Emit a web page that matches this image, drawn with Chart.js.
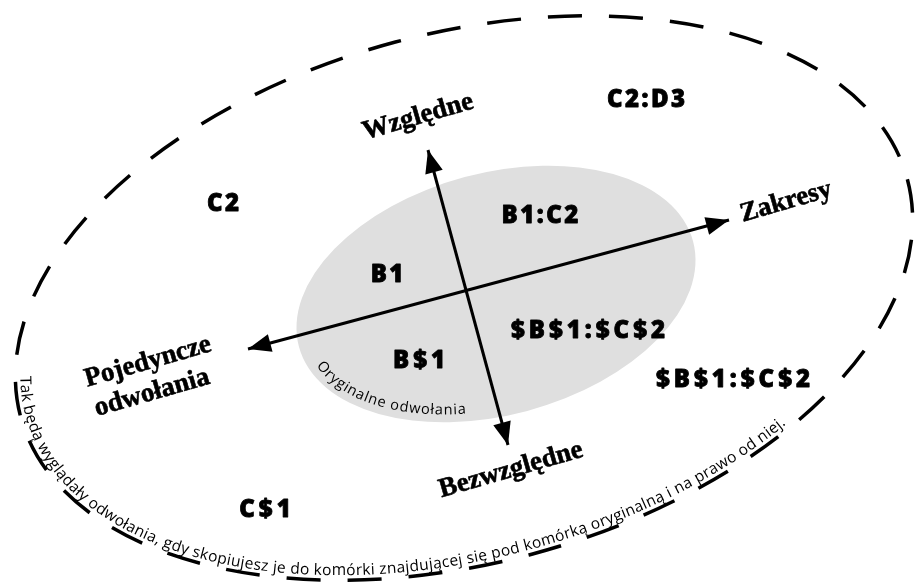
<!DOCTYPE html>
<html>
<head>
<meta charset="utf-8">
<script src="https://cdn.jsdelivr.net/npm/chart.js@4/dist/chart.umd.min.js"></script>
<style>
  html, body { margin:0; padding:0; background:#fff; }
  #diagram { display:block; }
</style>
</head>
<body>
<canvas id="diagram" width="916" height="586"></canvas>
<script>
// cell references placed around the diagram (plot units = 916 x 586 frame)
var cellRefs = ['C2', 'C2:D3', 'B1', 'B1:C2', '$B$1:$C$2', 'B$1', 'C$1', '$B$1:$C$2'];
var cellX = [223, 646, 387, 540, 588, 419, 265, 733];
var cellY = [204, 100, 275, 216, 331, 361, 510, 380];

// names of the arrow directions
var axisNames = ['Względne', 'Zakresy', 'Bezwzględne', 'Pojedyncze', 'odwołania'];
var axisNameX = [418, 786, 511, 148, 152];
var axisNameY = [117, 202, 470, 362, 393];

// the two double arrows
var vertArrowX = [508, 428];
var vertArrowY = [445, 150];
var horizArrowX = [248, 729];
var horizArrowY = [349, 220];

// ellipses: centre x, centre y, radius x, radius y, tilt (deg)
var outerRing = [464, 298, 459, 265, -15];
var innerRing = [496, 294, 204, 121, -15];

// texts running along the ellipses
var outerCaption = 'Tak będą wyglądały odwołania, gdy skopiujesz je do komórki znajdującej się pod komórką oryginalną i na prawo od niej.';
var outerCaptionFrom = [26, 376];
var outerCaptionTo = [789, 428];
var innerCaption = 'Oryginalne odwołania';
var innerCaptionFrom = [316, 366];
var innerCaptionTo = [466, 413];

function ringPoint(r, t, inset){
    var a = (r[2] - inset) * Math.cos(t), b = (r[3] - inset) * Math.sin(t);
    var rot = r[4] * Math.PI / 180;
    return [r[0] + a*Math.cos(rot) - b*Math.sin(rot), r[1] + a*Math.sin(rot) + b*Math.cos(rot)];
}

function drawRing(chart, r, fill, dash){
    var xs = chart.scales.x, ys = chart.scales.y, ctx = chart.ctx;
    var cx = xs.getPixelForValue(r[0]), cy = ys.getPixelForValue(r[1]);
    var rx = Math.abs(xs.getPixelForValue(r[0] + r[2]) - cx);
    var ry = Math.abs(ys.getPixelForValue(r[1] + r[3]) - cy);
    ctx.save();
    ctx.beginPath();
    ctx.ellipse(cx, cy, rx, ry, r[4] * Math.PI / 180, 0, Math.PI * 2);
    if(fill){ ctx.fillStyle = fill; ctx.fill(); }
    if(dash){
        ctx.setLineDash(dash);
        ctx.lineWidth = 3.5;
        ctx.strokeStyle = '#000';
        ctx.stroke();
    }
    ctx.restore();
}

function textOnRing(chart, r, inset, str, from, to, font){
    var xs = chart.scales.x, ys = chart.scales.y, ctx = chart.ctx;
    // find start parameter nearest to 'from'
    var best = 0, bd = 1e9, i;
    for(i = 0; i < 3600; i++){
        var t = i / 3600 * Math.PI * 2;
        var p = ringPoint(r, t, inset);
        var d = Math.hypot(p[0] - from[0], p[1] - from[1]);
        if(d < bd){ bd = d; best = t; }
    }
    // walk with decreasing t (left -> bottom -> right)
    var pts = [], lens = [0], n = 3000;
    for(i = 0; i <= n; i++){
        var q = ringPoint(r, best - i / n * Math.PI * 2, inset);
        pts.push([xs.getPixelForValue(q[0]), ys.getPixelForValue(q[1])]);
        if(i > 0) lens.push(lens[i-1] + Math.hypot(pts[i][0] - pts[i-1][0], pts[i][1] - pts[i-1][1]));
    }
    var endIdx = 0; bd = 1e9;
    var tx = xs.getPixelForValue(to[0]), ty = ys.getPixelForValue(to[1]);
    for(i = 0; i <= n / 2; i++){
        var dd = Math.hypot(pts[i][0] - tx, pts[i][1] - ty);
        if(dd < bd){ bd = dd; endIdx = i; }
    }
    var arc = lens[endIdx];
    ctx.save();
    ctx.font = font;
    ctx.fillStyle = '#000';
    ctx.textAlign = 'center';
    ctx.textBaseline = 'alphabetic';
    var widths = str.split('').map(function(ch){ return ctx.measureText(ch).width; });
    var total = widths.reduce(function(a, b){ return a + b; }, 0);
    var extra = (arc - total) / (str.length - 1);
    var s = 0, k = 0;
    for(i = 0; i < str.length; i++){
        var mid = s + widths[i] / 2;
        while(k < n - 1 && lens[k+1] < mid) k++;
        var seg = lens[k+1] - lens[k] || 1;
        var f = (mid - lens[k]) / seg;
        var px = pts[k][0] + (pts[k+1][0] - pts[k][0]) * f;
        var py = pts[k][1] + (pts[k+1][1] - pts[k][1]) * f;
        var ang = Math.atan2(pts[k+1][1] - pts[k][1], pts[k+1][0] - pts[k][0]);
        ctx.save();
        ctx.translate(px, py);
        ctx.rotate(ang);
        ctx.fillText(str[i], 0, 0);
        ctx.restore();
        s += widths[i] + extra;
    }
    ctx.restore();
}

function arrowHead(ctx, x0, y0, x1, y1){
    var ang = Math.atan2(y1 - y0, x1 - x0), len = 23, half = 9;
    ctx.beginPath();
    ctx.moveTo(x1, y1);
    ctx.lineTo(x1 - len*Math.cos(ang) + half*Math.sin(ang), y1 - len*Math.sin(ang) - half*Math.cos(ang));
    ctx.lineTo(x1 - len*Math.cos(ang) - half*Math.sin(ang), y1 - len*Math.sin(ang) + half*Math.cos(ang));
    ctx.closePath();
    ctx.fill();
}

var backdrop = {
    id: 'backdrop',
    beforeDatasetsDraw: function(chart){
        drawRing(chart, innerRing, '#dfdfdf', null);
        drawRing(chart, outerRing, null, [34, 27]);
        textOnRing(chart, outerRing, 5, outerCaption, outerCaptionFrom, outerCaptionTo, '15.5px "Open Sans", sans-serif');
        textOnRing(chart, innerRing, 8, innerCaption, innerCaptionFrom, innerCaptionTo, '14.5px "Open Sans", sans-serif');
    }
};

var overlay = {
    id: 'overlay',
    afterDatasetsDraw: function(chart){
        var ctx = chart.ctx, xs = chart.scales.x, ys = chart.scales.y;
        ctx.save();
        ctx.fillStyle = '#000';
        ctx.strokeStyle = '#000';
        chart.data.datasets.forEach(function(ds, di){
            var meta = chart.getDatasetMeta(di).data;
            var a = meta[0], b = meta[meta.length - 1];
            arrowHead(ctx, a.x, a.y, b.x, b.y);
            arrowHead(ctx, b.x, b.y, a.x, a.y);
        });
        ctx.textAlign = 'left';
        ctx.textBaseline = 'middle';
        ctx.lineJoin = 'round';
        ctx.lineWidth = 0.8;
        cellRefs.forEach(function(txt, i){
            ctx.font = '800 24px "Open Sans", sans-serif';
            ctx.letterSpacing = txt.indexOf('$') >= 0 ? '4px' : '2.5px';
            var w = ctx.measureText(txt).width - parseFloat(ctx.letterSpacing);
            var x = xs.getPixelForValue(cellX[i]) - w / 2, y = ys.getPixelForValue(cellY[i]);
            ctx.fillText(txt, x, y);
            ctx.strokeText(txt, x, y);
        });
        ctx.letterSpacing = '0px';
        ctx.textAlign = 'center';
        ctx.lineWidth = 0.6;
        ctx.font = 'bold 27px "Liberation Serif", "Times New Roman", serif';
        axisNames.forEach(function(txt, i){
            ctx.save();
            ctx.translate(xs.getPixelForValue(axisNameX[i]), ys.getPixelForValue(axisNameY[i]));
            ctx.rotate(-16 * Math.PI / 180);
            ctx.fillText(txt, 0, 0);
            ctx.strokeText(txt, 0, 0);
            ctx.restore();
        });
        ctx.restore();
    }
};

function pairs(xs, ys){ return xs.map(function(x, i){ return {x: x, y: ys[i]}; }); }

new Chart(document.getElementById('diagram'), {
    type: 'scatter',
    data: {
        datasets: [
            { label: 'Względne / Bezwzględne', data: pairs(vertArrowX, vertArrowY), showLine: true, borderColor: '#000', borderWidth: 3, pointRadius: 0 },
            { label: 'Pojedyncze / Zakresy', data: pairs(horizArrowX, horizArrowY), showLine: true, borderColor: '#000', borderWidth: 3, pointRadius: 0 }
        ]
    },
    options: {
        responsive: false,
        animation: false,
        layout: { padding: 0 },
        plugins: { legend: { display: false }, tooltip: { enabled: false } },
        scales: {
            x: { type: 'linear', min: 0, max: 916, display: false },
            y: { type: 'linear', min: 0, max: 586, reverse: true, display: false }
        }
    },
    plugins: [backdrop, overlay]
});
</script>
</body>
</html>
